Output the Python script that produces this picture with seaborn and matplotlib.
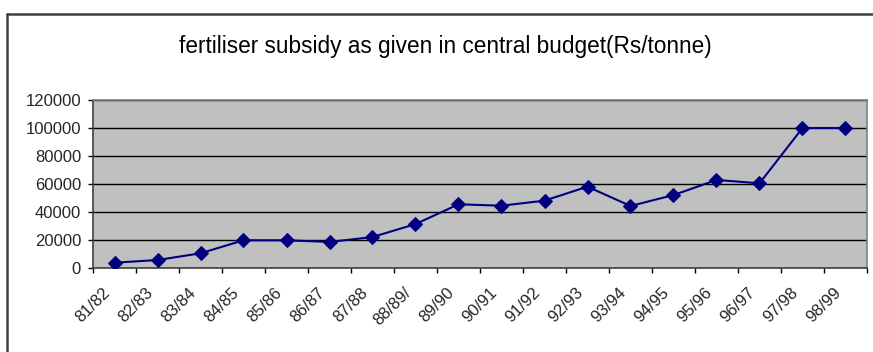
import matplotlib
matplotlib.use("Agg")
import matplotlib.pyplot as plt
from matplotlib.lines import Line2D
from matplotlib.transforms import ScaledTranslation
import seaborn as sns
import pandas as pd

years = ["81/82", "82/83", "83/84", "84/85", "85/86", "86/87", "87/88", "88/89/",
         "89/90", "90/91", "91/92", "92/93", "93/94", "94/95", "95/96", "96/97",
         "97/98", "98/99"]
subsidy = [3800, 5700, 10500, 19800, 19800, 18600, 22100, 31400,
           45500, 44500, 48100, 58100, 44300, 52100, 62900, 60500,
           100000, 100000]
y_ticks = [0, 20000, 40000, 60000, 80000, 100000, 120000]

df = pd.DataFrame({"pos": range(len(years)), "year": years, "subsidy": subsidy})

sns.set_theme(style="white")
plt.rcParams["font.family"] = ["Liberation Sans", "DejaVu Sans"]

fig = plt.figure(figsize=(8.73, 3.52), dpi=100)
fig.patch.set_facecolor("white")
ax = fig.add_axes([93 / 873, 1 - 268 / 352, (867 - 93) / 873, (268 - 100) / 352])
ax.set_facecolor("#C0C0C0")

sns.lineplot(data=df, x="pos", y="subsidy", ax=ax, color="#000080", linewidth=1.5,
             marker="D", markersize=7.5, markeredgecolor="#000080", zorder=3)

ax.set_xlim(-0.5, len(years) - 0.5)
ax.set_ylim(0, 120000)
ax.set_yticks(y_ticks)
ax.set_yticklabels([str(v) for v in y_ticks], fontsize=12)
ax.yaxis.grid(True, color="black", linewidth=1)
ax.set_axisbelow(True)

# ticks at category boundaries, labels at category centres
ax.set_xticks([i - 0.5 for i in range(len(years) + 1)])
ax.set_xticklabels([])
ax.set_xticks(range(len(years)), minor=True)
ax.set_xticklabels(years, minor=True, rotation=45, ha="right", va="center",
                   rotation_mode="anchor", fontsize=12)
ax.tick_params(axis="x", which="major", direction="out", length=3.6, width=1,
               color="black", bottom=True)
ax.tick_params(axis="x", which="minor", length=0, pad=16)
ax.tick_params(axis="y", direction="out", length=3.6, width=1, color="black",
               left=True, pad=5)
shift = ScaledTranslation(-0.07, 0, fig.dpi_scale_trans)
for lab in ax.get_xticklabels(minor=True):
    lab.set_transform(lab.get_transform() + shift)

ax.set_xlabel("")
ax.set_ylabel("")
for side in ("left", "bottom"):
    ax.spines[side].set_color("#404040")
    ax.spines[side].set_linewidth(1.2)
for side in ("top", "right"):
    ax.spines[side].set_color("#808080")
    ax.spines[side].set_linewidth(1.2)

fig.text(445 / 873, 1 - 46 / 352, "fertiliser subsidy as given in central budget(Rs/tonne)",
         ha="center", va="center", fontsize=16.3, color="black")

# outer chart frame (top and left edges)
fig.add_artist(Line2D([7 / 873, 7 / 873], [0, 1 - 14 / 352], transform=fig.transFigure,
                      color="#404040", linewidth=1.8))
fig.add_artist(Line2D([7 / 873, 1], [1 - 14 / 352, 1 - 14 / 352], transform=fig.transFigure,
                      color="#404040", linewidth=1.8))

fig.savefig("out.png", dpi=100)
